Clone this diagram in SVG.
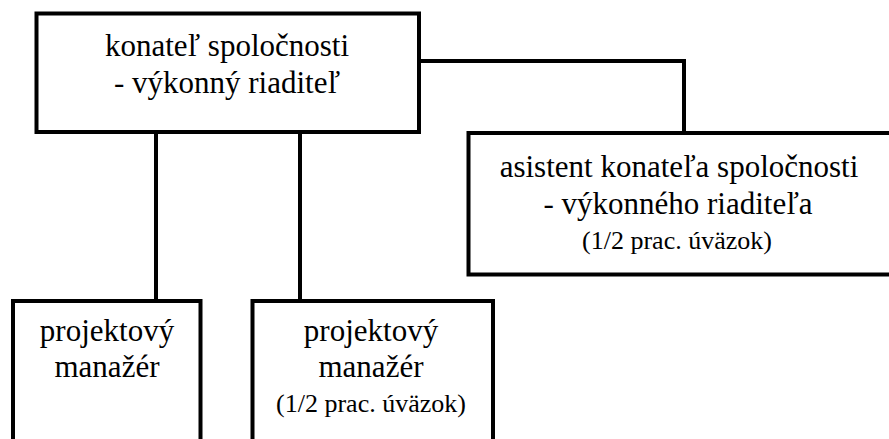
<svg xmlns="http://www.w3.org/2000/svg" width="889" height="439" viewBox="0 0 889 439">
<style>
  .box { fill: #fff; stroke: #000; stroke-width: 4; }
  .conn { fill: none; stroke: #000; stroke-width: 4; }
  text { font-family: 'Liberation Serif', 'Times New Roman', serif; fill: #000; text-anchor: middle; }
  .t { font-size: 31px; }
  .s { font-size: 26px; }
</style>
<rect width="889" height="439" fill="#fff"/>
<g id="connectors">
  <path class="conn" d="M419 61 H684 V133"/>
  <path class="conn" d="M156 132 V301"/>
  <path class="conn" d="M300 132 V301"/>
</g>
<g id="node-konatel">
  <rect class="box" x="36.5" y="13.5" width="382.5" height="118.5"/>
  <text class="t" x="227" y="56">konateľ spoločnosti</text>
  <text class="t" x="227" y="93">- výkonný riaditeľ</text>
</g>
<g id="node-asistent">
  <rect class="box" x="468.5" y="133" width="440" height="141.5"/>
  <text class="t" x="679" y="177">asistent konateľa spoločnosti</text>
  <text class="t" x="678" y="214">- výkonného riaditeľa</text>
  <text class="s" x="677" y="249">(1/2 prac. úväzok)</text>
</g>
<g id="node-pm1">
  <rect class="box" x="13" y="301" width="187.5" height="160"/>
  <text class="t" x="107" y="341">projektový</text>
  <text class="t" x="107" y="377">manažér</text>
</g>
<g id="node-pm2">
  <rect class="box" x="252.5" y="301" width="240.5" height="160"/>
  <text class="t" x="371" y="341">projektový</text>
  <text class="t" x="371" y="377">manažér</text>
  <text class="s" x="371" y="412">(1/2 prac. úväzok)</text>
</g>
</svg>
